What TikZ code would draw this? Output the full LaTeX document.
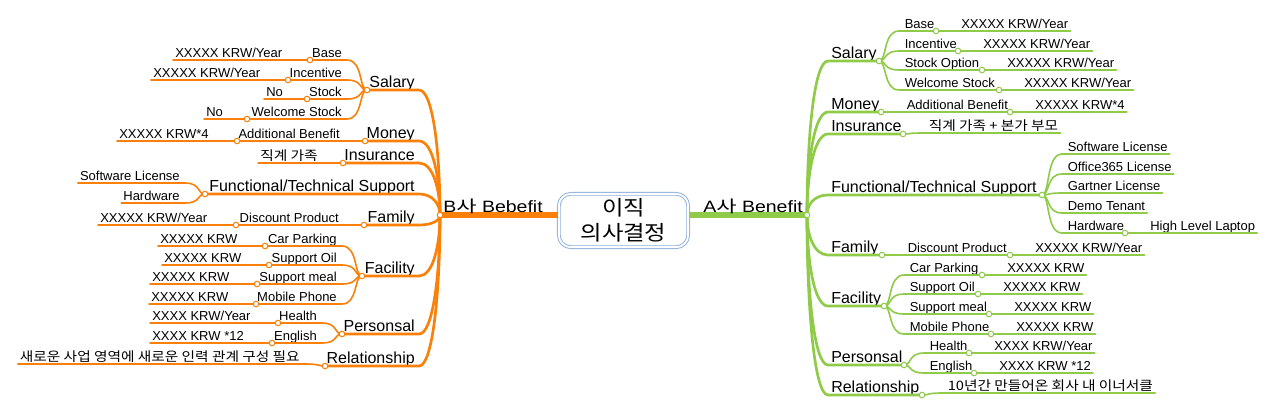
\documentclass[tikz,border=0pt]{standalone}
\usepackage{graphicx}
\usepackage{fontspec}
\setmainfont{Liberation Sans}
\newfontfamily\kr[FakeStretch=1.13]{Noto Sans CJK KR}
\usetikzlibrary{calc}
\pgfdeclarelayer{fg}
\pgfsetlayers{main,fg}
\definecolor{morange}{RGB}{250,128,10}
\definecolor{mgreen}{RGB}{143,203,72}
\definecolor{boxblue}{RGB}{141,176,220}
\tikzset{
  omain/.style={draw=morange,line width=2pt,line cap=round},
  osub/.style={draw=morange,line width=1.2pt,line cap=round},
  oroot/.style={draw=morange,line width=4.5pt},
  gmain/.style={draw=mgreen,line width=2pt,line cap=round},
  gsub/.style={draw=mgreen,line width=1.2pt,line cap=round},
  groot/.style={draw=mgreen,line width=4.5pt},
  odot/.style={circle,draw=morange,fill=white,inner sep=0pt,minimum size=4.2pt,line width=0.75pt},
  gdot/.style={circle,draw=mgreen,fill=white,inner sep=0pt,minimum size=4.2pt,line width=0.75pt},
  bigtxt/.style={inner sep=0pt,font=\fontsize{12pt}{14pt}\selectfont},
  roottxt/.style={inner sep=0pt,font=\fontsize{12.3pt}{14pt}\selectfont},
  smalltxt/.style={inner sep=0pt,font=\fontsize{9.75pt}{11pt}\selectfont},
}
% left main branch: id, circle x, y, text
\newcommand\lmain[4]{%
  \coordinate (#1) at (#2,#3);
  \coordinate (#1-e) at (419,#3);
  \node[bigtxt,anchor=base east] (#1-t) at (415,{#3-3}) {#4};
  \draw[omain] (LR) .. controls (440,{(215+#3)/2}) and (433,#3) .. (#1-e) -- (#1);
  \begin{pgfonlayer}{fg}\node[odot] (#1-o) at (#1) {};\end{pgfonlayer}}
% right main branch
\newcommand\rmain[4]{%
  \coordinate (#1) at (#2,#3);
  \coordinate (#1-e) at (828,#3);
  \node[bigtxt,anchor=base west] (#1-t) at (831,{#3-3}) {#4};
  \draw[gmain] (RR) .. controls (807,{(215+#3)/2}) and (814,#3) .. (#1-e) -- (#1);
  \begin{pgfonlayer}{fg}\node[gdot] (#1-o) at (#1) {};\end{pgfonlayer}}
% left sub with circle and value: parent, px, py, id, cx, cy, label, value-left, value
\newcommand\lsubv[9]{%
  \coordinate (#4) at (#5,#6);
  \coordinate (#4-e) at ({#2-20},#6);
  \node[smalltxt,anchor=base east] (#4-t) at ({#2-25},{#6-3}) {#7};
  \node[smalltxt,anchor=base west] (#4-v) at (#8,{#6-3}) {#9};
  \draw[osub] (#1) .. controls ({#2-8},#3) and ({#2-4},#6) .. (#4-e) -- (#4) -- ([xshift=-1.5pt]#4-v.west |- #4);
  \begin{pgfonlayer}{fg}\node[odot] (#4-o) at (#4) {};\end{pgfonlayer}}
% left sub without circle: parent, px, py, id, cy, label
\newcommand\lsubn[6]{%
  \coordinate (#4-e) at ({#2-20},#5);
  \node[smalltxt,anchor=base east] (#4-t) at ({#2-25},{#5-3}) {#6};
  \draw[osub] (#1) .. controls ({#2-8},#3) and ({#2-4},#5) .. (#4-e) -- ([xshift=-1.5pt]#4-t.west |- #4-e);}
% right sub with circle and value: parent, px, py, id, cx, cy, label, value
\newcommand\rsubv[8]{%
  \coordinate (#4) at (#5,#6);
  \coordinate (#4-e) at ({#2+20},#6);
  \node[smalltxt,anchor=base west] (#4-t) at ({#2+25.5},{#6-3}) {#7};
  \node[smalltxt,anchor=base west] (#4-v) at ({#5+25},{#6-3}) {#8};
  \draw[gsub] (#1) .. controls ({#2+8},#3) and ({#2+4},#6) .. (#4-e) -- (#4) -- ([xshift=1.5pt]#4-v.east |- #4);
  \begin{pgfonlayer}{fg}\node[gdot] (#4-o) at (#4) {};\end{pgfonlayer}}
% right sub without circle: parent, px, py, id, cy, label
\newcommand\rsubn[6]{%
  \coordinate (#4-e) at ({#2+20},#5);
  \node[smalltxt,anchor=base west] (#4-t) at ({#2+25.5},{#5-3}) {#6};
  \draw[gsub] (#1) .. controls ({#2+8},#3) and ({#2+4},#5) .. (#4-e) -- ([xshift=1.5pt]#4-t.east |- #4-e);}
\begin{document}
\begin{tikzpicture}[x=0.75pt,y=-0.75pt]
\useasboundingbox (0,0) rectangle (1280,411);
\coordinate (LR) at (440,215);
\coordinate (RR) at (807,215);
% centre
\node[draw=boxblue,double=white,double distance=1.4pt,line width=0.7pt,fill=white,
  rounded corners=9pt,minimum width=97pt,minimum height=40pt,inner sep=0pt,
  align=center,font=\kr\fontsize{15.5pt}{18.5pt}\selectfont] (C) at (623.5,220.5) {이직\\의사결정};
\begin{pgfonlayer}{main}
\draw[oroot] (LR) -- (LR -| C.west);
\draw[groot] (C.east |- RR) -- (RR);
\end{pgfonlayer}
\node[roottxt,anchor=base west] (Bt) at (443,212) {\scalebox{1.19}[1]{B{\kr 사} Bebefit}};
\node[roottxt,anchor=base west] (At) at (703,212) {\scalebox{1.19}[1]{A{\kr 사} Benefit}};
% left side
\lmain{LSal}{367}{90}{Salary}
\lmain{LMon}{365}{141}{Money}
\lmain{LIns}{343}{163}{Insurance}
\lmain{LFun}{205}{194}{Functional/Technical Support}
\lmain{LFam}{364}{225}{Family}
\lmain{LFac}{362}{276}{Facility}
\lmain{LPer}{342}{334}{Personsal}
\lmain{LRel}{325}{366}{Relationship}
\lsubv{LSal}{367}{90}{LBase}{310}{60}{Base}{175}{XXXXX KRW/Year}
\lsubv{LSal}{367}{90}{LInc}{288}{80}{Incentive}{153}{XXXXX KRW/Year}
\lsubv{LSal}{367}{90}{LStk}{307}{99}{Stock}{266}{No}
\lsubv{LSal}{367}{90}{LWel}{247}{119}{Welcome Stock}{206}{No}
\lsubv{LMon}{365}{141}{LAdd}{237}{141}{Additional Benefit}{119}{XXXXX KRW*4}
\lsubn{LIns}{343}{163}{LIns1}{163}{\kr 직계 가족}
\lsubn{LFun}{205}{194}{LSw}{183}{Software License}
\lsubn{LFun}{205}{194}{LHw}{203}{Hardware}
\lsubv{LFam}{364}{225}{LDis}{236}{225}{Discount Product}{100}{XXXXX KRW/Year}
\lsubv{LFac}{362}{276}{LCar}{265}{246}{Car Parking}{160}{XXXXX KRW}
\lsubv{LFac}{362}{276}{LOil}{269}{265}{Support Oil}{164}{XXXXX KRW}
\lsubv{LFac}{362}{276}{LMeal}{257}{284}{Support meal}{152}{XXXXX KRW}
\lsubv{LFac}{362}{276}{LMob}{256}{304}{Mobile Phone}{151}{XXXXX KRW}
\lsubv{LPer}{342}{334}{LHea}{278}{323}{Health}{152}{XXXX KRW/Year}
\lsubv{LPer}{342}{334}{LEng}{272}{343}{English}{152}{XXXX KRW *12}
\lsubn{LRel}{325}{366}{LRel1}{364}{\kr 새로운 사업 영역에 새로운 인력 관계 구성 필요}
% right side
\rmain{RSal}{879}{61}{Salary}
\rmain{RMon}{881}{112}{Money}
\rmain{RIns}{903}{134}{Insurance}
\rmain{RFun}{1042}{195}{Functional/Technical Support}
\rmain{RFam}{882}{255}{Family}
\rmain{RFac}{884}{306}{Facility}
\rmain{RPer}{904}{365}{Personsal}
\rmain{RRel}{922}{395}{Relationship}
\rsubv{RSal}{879}{61}{RBase}{936}{31}{Base}{XXXXX KRW/Year}
\rsubv{RSal}{879}{61}{RInc}{958}{51}{Incentive}{XXXXX KRW/Year}
\rsubv{RSal}{879}{61}{RStk}{982}{70}{Stock Option}{XXXXX KRW/Year}
\rsubv{RSal}{879}{61}{RWel}{999}{90}{Welcome Stock}{XXXXX KRW/Year}
\rsubv{RMon}{881}{112}{RAdd}{1010}{112}{Additional Benefit}{XXXXX KRW*4}
\rsubn{RIns}{903}{134}{RIns1}{133}{\kr 직계 가족 + 본가 부모}
\rsubn{RFun}{1042}{195}{RSw}{154}{Software License}
\rsubn{RFun}{1042}{195}{ROff}{174}{Office365 License}
\rsubn{RFun}{1042}{195}{RGar}{193}{Gartner License}
\rsubn{RFun}{1042}{195}{RDem}{213}{Demo Tenant}
\rsubv{RFun}{1042}{195}{RHw}{1125}{233}{Hardware}{High Level Laptop}
\rsubv{RFam}{882}{255}{RDis}{1010}{255}{Discount Product}{XXXXX KRW/Year}
\rsubv{RFac}{884}{306}{RCar}{982}{275}{Car Parking}{XXXXX KRW}
\rsubv{RFac}{884}{306}{ROil}{978}{294}{Support Oil}{XXXXX KRW}
\rsubv{RFac}{884}{306}{RMeal}{989}{314}{Support meal}{XXXXX KRW}
\rsubv{RFac}{884}{306}{RMob}{991}{334}{Mobile Phone}{XXXXX KRW}
\rsubv{RPer}{904}{365}{RHea}{969}{353}{Health}{XXXX KRW/Year}
\rsubv{RPer}{904}{365}{REng}{974}{373}{English}{XXXX KRW *12}
\rsubn{RRel}{922}{395}{RRel1}{393}{\kr 10년간 만들어온 회사 내 이너서클}
\begin{pgfonlayer}{fg}
\node[odot] (LR-o) at (LR) {};
\node[gdot] (RR-o) at (RR) {};
\end{pgfonlayer}
\end{tikzpicture}
\end{document}
